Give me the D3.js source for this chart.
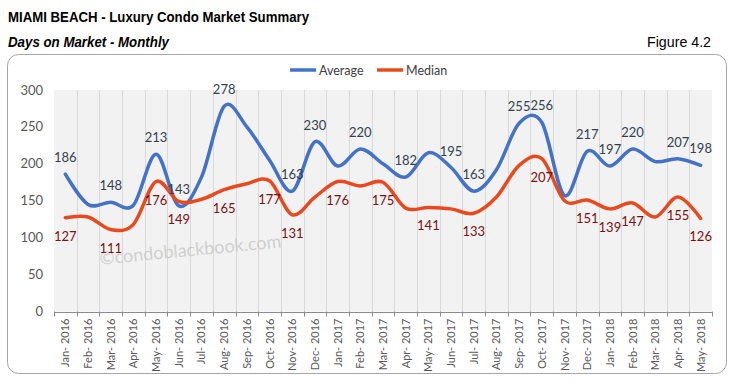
<!DOCTYPE html>
<html>
<head>
<meta charset="utf-8">
<script src="https://cdn.jsdelivr.net/npm/d3@7"></script>
<style>
  body { margin: 0; background: #fff; }
  svg { display: block; }
  .ttl { font-family: "Liberation Sans", Arial, sans-serif; fill: #000; }
  .tick-y, .tick-x, .lbl, .leg, .wm { font-family: Lato, "Open Sans", sans-serif; }
</style>
</head>
<body>
<svg id="chart" width="731" height="385"></svg>
<script>
// months on the category axis
var months = ['Jan- 2016','Feb- 2016','Mar- 2016','Apr- 2016','May- 2016','Jun- 2016','Jul- 2016','Aug- 2016',
  'Sep- 2016','Oct- 2016','Nov- 2016','Dec- 2016','Jan- 2017','Feb- 2017','Mar- 2017','Apr- 2017','May- 2017',
  'Jun- 2017','Jul- 2017','Aug- 2017','Sep- 2017','Oct- 2017','Nov- 2017','Dec- 2017','Jan- 2018','Feb- 2018',
  'Mar- 2018','Apr- 2018','May- 2018'];

// days on market
var average = [186,145,148,144,213,143,182,278,250,205,163,230,197,220,200,182,215,195,163,192,255,256,157,217,197,220,203,207,198];
var median  = [127,128,111,118,176,149,152,165,173,177,131,155,176,170,175,140,141,139,133,155,198,207,150,151,139,147,128,155,126];

// which points carry a data label (1 = shown)
var averageShown = [1,0,1,0,1,1,0,1,0,0,1,1,0,1,0,1,0,1,1,0,1,1,0,1,1,1,0,1,1];
var medianShown  = [1,0,1,0,1,1,0,1,0,1,1,0,1,0,1,0,1,0,1,0,0,1,0,1,1,1,0,1,1];

var yTicks = [0,50,100,150,200,250,300];

var svg = d3.select('#chart');

// outer frame
svg.append('rect')
  .attr('x', 7.5).attr('y', 54.5)
  .attr('width', 719).attr('height', 319)
  .attr('rx', 11).attr('ry', 11)
  .attr('fill', '#fff')
  .attr('stroke', '#a6a6a6')
  .attr('stroke-width', 1);

// titles (narrow face squeezed to the original widths)
svg.append('text').attr('class', 'ttl')
  .attr('x', 8).attr('y', 22)
  .attr('textLength', 301).attr('lengthAdjust', 'spacingAndGlyphs')
  .style('font-size', '15px').style('font-weight', 'bold')
  .text('MIAMI BEACH - Luxury Condo Market Summary');

svg.append('text').attr('class', 'ttl')
  .attr('x', 8).attr('y', 47)
  .attr('textLength', 161).attr('lengthAdjust', 'spacingAndGlyphs')
  .style('font-size', '14px').style('font-weight', 'bold').style('font-style', 'italic')
  .text('Days on Market - Monthly');

svg.append('text').attr('class', 'ttl')
  .attr('x', 647).attr('y', 47)
  .attr('textLength', 64).attr('lengthAdjust', 'spacingAndGlyphs')
  .style('font-size', '14px')
  .text('Figure 4.2');

var x = d3.scaleBand().domain(months).range([54, 712]);
var y = d3.scaleLinear().domain([0, 300]).range([311.5, 90]);
var cx = function(i){ return x(months[i]) + x.bandwidth() / 2; };

// plot background
svg.append('rect')
  .attr('x', x.range()[0]).attr('y', y(300))
  .attr('width', x.range()[1] - x.range()[0])
  .attr('height', y(0) - y(300))
  .attr('fill', '#f2f2f2');

// vertical grid lines at category boundaries
var bounds = months.map(function(m){ return x(m); }).concat([x.range()[1]]);
svg.append('g').selectAll('line')
  .data(bounds.slice(1, -1))
  .enter().append('line')
  .attr('x1', function(d){ return Math.round(d) + 0.5; })
  .attr('x2', function(d){ return Math.round(d) + 0.5; })
  .attr('y1', y(300)).attr('y2', y(0))
  .attr('stroke', '#d9d9d9');

// x axis with ticks between categories
var xAxis = svg.append('g');
xAxis.append('line')
  .attr('x1', x.range()[0]).attr('x2', x.range()[1])
  .attr('y1', Math.round(y(0)) + 0.5).attr('y2', Math.round(y(0)) + 0.5)
  .attr('stroke', '#8c8c8c');
xAxis.selectAll('line.tk')
  .data(bounds)
  .enter().append('line').attr('class', 'tk')
  .attr('x1', function(d){ return Math.round(d) + 0.5; })
  .attr('x2', function(d){ return Math.round(d) + 0.5; })
  .attr('y1', y(0)).attr('y2', y(0) + 5)
  .attr('stroke', '#8c8c8c');
xAxis.selectAll('text')
  .data(months)
  .enter().append('text').attr('class', 'tick-x')
  .attr('transform', function(d, i){ return 'translate(' + (cx(i) + 4) + ',' + (y(0) + 7) + ') rotate(-90)'; })
  .attr('text-anchor', 'end')
  .style('font-size', '11px')
  .attr('fill', '#595959')
  .text(function(d){ return d; });

// y axis labels
svg.append('g').selectAll('text')
  .data(yTicks)
  .enter().append('text').attr('class', 'tick-y')
  .attr('x', 43).attr('y', function(d){ return y(d) + 4.5; })
  .attr('text-anchor', 'end')
  .style('font-size', '13px')
  .attr('fill', '#595959')
  .text(function(d){ return d; });

// watermark
svg.append('text').attr('class', 'wm')
  .attr('transform', 'translate(191,256) rotate(-5.5)')
  .attr('text-anchor', 'middle')
  .style('font-size', '18px')
  .attr('fill', '#c9c9c9')
  .attr('fill-opacity', 0.85)
  .text('\u00a9condoblackbook.com');

// lines
var line = d3.line()
  .x(function(d, i){ return cx(i); })
  .y(function(d){ return y(d); })
  .curve(d3.curveCardinal.tension(0));

var series = [
  { name: 'Average', values: average, shown: averageShown, color: '#4472c4', text: '#333f50', dy: -12 },
  { name: 'Median',  values: median,  shown: medianShown,  color: '#e84a1f', text: '#7b1010', dy: 23 }
];

series.forEach(function(s){
  svg.append('path')
    .datum(s.values)
    .attr('d', line)
    .attr('fill', 'none')
    .attr('stroke', s.color)
    .attr('stroke-width', 3.5)
    .attr('stroke-linecap', 'round')
    .attr('stroke-linejoin', 'round');
});

series.forEach(function(s){
  svg.append('g').selectAll('text')
    .data(s.values.map(function(v, i){ return { v: v, i: i }; })
      .filter(function(d){ return s.shown[d.i]; }))
    .enter().append('text').attr('class', 'lbl')
    .attr('x', function(d){ return cx(d.i); })
    .attr('y', function(d){ return y(d.v) + s.dy; })
    .attr('text-anchor', 'middle')
    .style('font-size', '13px')
    .attr('fill', s.text)
    .text(function(d){ return d.v; });
});

// legend
var leg = svg.append('g');
var legX = [290, 377];
series.forEach(function(s, k){
  leg.append('line')
    .attr('x1', legX[k]).attr('x2', legX[k] + 26)
    .attr('y1', 70).attr('y2', 70)
    .attr('stroke', s.color).attr('stroke-width', 3.5);
  leg.append('text').attr('class', 'leg')
    .attr('x', legX[k] + 29).attr('y', 74.5)
    .style('font-size', '12.5px')
    .attr('fill', '#404040')
    .text(s.name);
});
</script>
</body>
</html>
